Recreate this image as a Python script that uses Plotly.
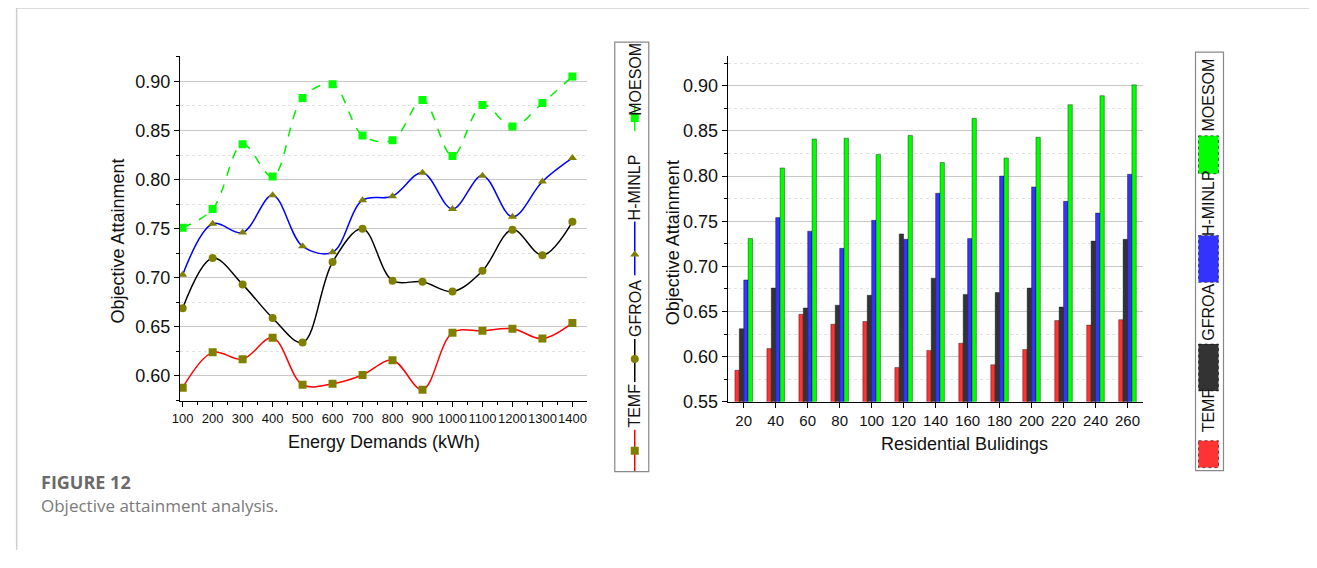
import plotly.graph_objects as go

# ---- left panel: objective attainment vs energy demand ----
demand = [100, 200, 300, 400, 500, 600, 700, 800, 900, 1000, 1100, 1200, 1300, 1400]
temf_line = [0.588, 0.624, 0.617, 0.639, 0.591, 0.592, 0.601, 0.616, 0.586, 0.644, 0.646, 0.648, 0.638, 0.654]
gfroa_line = [0.669, 0.720, 0.693, 0.659, 0.634, 0.716, 0.750, 0.697, 0.696, 0.686, 0.707, 0.749, 0.723, 0.757]
hminlp_line = [0.703, 0.755, 0.746, 0.784, 0.732, 0.726, 0.779, 0.783, 0.807, 0.770, 0.804, 0.762, 0.798, 0.822]
moesom_line = [0.751, 0.770, 0.836, 0.803, 0.883, 0.897, 0.845, 0.840, 0.881, 0.824, 0.876, 0.854, 0.878, 0.905]

# ---- right panel: objective attainment vs residential buildings ----
buildings = ["20", "40", "60", "80", "100", "120", "140", "160", "180", "200", "220", "240", "260"]
temf_bar = [0.585, 0.609, 0.647, 0.636, 0.639, 0.588, 0.607, 0.615, 0.591, 0.608, 0.640, 0.635, 0.641]
gfroa_bar = [0.631, 0.676, 0.654, 0.657, 0.668, 0.736, 0.687, 0.669, 0.671, 0.676, 0.655, 0.728, 0.730]
hminlp_bar = [0.685, 0.754, 0.739, 0.720, 0.751, 0.730, 0.781, 0.731, 0.800, 0.788, 0.772, 0.759, 0.802]
moesom_bar = [0.731, 0.809, 0.841, 0.842, 0.824, 0.845, 0.815, 0.864, 0.820, 0.843, 0.879, 0.889, 0.901]

OFF = 8
W, H = 1301, 552
FONT = "Liberation Sans, Arial, sans-serif"
OLIVE = "#808000"
RED, BLACK, BLUE, GREEN = "#ff0000", "#000000", "#0000ff", "#00ee00"
BAR_RED, BAR_BLACK, BAR_BLUE, BAR_GREEN = "#ff3333", "#333333", "#3333ff", "#00ff00"

# the photographed page comes out slightly shifted/scaled; undo that so
# positions below can be given in reference-picture pixels
SX, DX = 0.9943, 7.0
SY, DY = 0.9855, -0.2


def fx(x):
    w = (x - DX) / SX
    return min(max((w - OFF) / W, 0), 1)


def fy(y):
    w = (y - DY) / SY
    return min(max(1 - (w - OFF) / H, 0), 1)


def px_x(a, b):
    return [fx(a), fx(b)]


def px_y(top, bottom):
    return [fy(bottom), fy(top)]


fig = go.Figure()

line_series = [
    ("TEMF", temf_line, RED, "solid", "square", OLIVE),
    ("GFROA", gfroa_line, BLACK, "solid", "circle", OLIVE),
    ("H-MINLP", hminlp_line, BLUE, "solid", "triangle-up", OLIVE),
    ("MOESOM", moesom_line, GREEN, "dash", "square", "#00ff00"),
]
for name, vals, col, dash, sym, mcol in line_series:
    fig.add_trace(go.Scatter(
        x=demand, y=vals, name=name, mode="lines+markers",
        line=dict(color=col, width=1.5, dash=dash, shape="spline", smoothing=1.0),
        marker=dict(symbol=sym, size=8, color=mcol),
        xaxis="x", yaxis="y", showlegend=False))

bar_series = [
    ("TEMF", temf_bar, BAR_RED),
    ("GFROA", gfroa_bar, BAR_BLACK),
    ("H-MINLP", hminlp_bar, BAR_BLUE),
    ("MOESOM", moesom_bar, BAR_GREEN),
]
for name, vals, col in bar_series:
    fig.add_trace(go.Bar(
        x=buildings, y=vals, name=name, marker_color=col,
        marker_line=dict(color="rgba(0,0,0,0.55)", width=0.7),
        xaxis="x2", yaxis="y2", showlegend=False))

# ---- rotated legends (drawn on helper axes in reference pixel units) ----
leg_names = ["MOESOM", "H-MINLP", "GFROA", "TEMF"]
# left legend: lines with markers
l_text_y = [79, 188, 309, 407]
l_sym = [("#00ff00", "dash", "square", "#00ff00", 104, 134, 118),
         (BLUE, "solid", "triangle-up", OLIVE, 222, 276, 255),
         (BLACK, "solid", "circle", OLIVE, 340, 383, 360),
         (RED, "solid", "square", OLIVE, 431, 473, 452)]
for (lc, dash, sym, mc, y0, y1, ym) in l_sym:
    fig.add_trace(go.Scatter(x=[634, 634], y=[y0, y1], mode="lines",
                             line=dict(color=lc, width=1.5, dash=dash),
                             xaxis="x3", yaxis="y3", showlegend=False, hoverinfo="skip"))
    fig.add_trace(go.Scatter(x=[634], y=[ym], mode="markers",
                             marker=dict(symbol=sym, size=8, color=mc),
                             xaxis="x3", yaxis="y3", showlegend=False, hoverinfo="skip"))

# right legend: coloured boxes
r_text_y = [95, 204, 313, 412]
r_box = [(BAR_GREEN, 136, 174), (BAR_BLUE, 236, 283), (BAR_BLACK, 345, 392), (BAR_RED, 442, 469)]

shapes = []
annotations = []
for nm, ty in zip(leg_names, l_text_y):
    annotations.append(dict(x=634, y=ty, xref="x3", yref="y3", text=nm, textangle=-90,
                            xanchor="center", yanchor="middle",
                            showarrow=False, font=dict(family=FONT, size=16, color="#111")))
for nm, ty in zip(leg_names, r_text_y):
    annotations.append(dict(x=1208, y=ty, xref="x4", yref="y4", text=nm, textangle=-90,
                            xanchor="center", yanchor="middle",
                            showarrow=False, font=dict(family=FONT, size=16, color="#111")))
for col, y0, y1 in r_box:
    shapes.append(dict(type="rect", xref="x4", yref="y4", x0=1198, x1=1218, y0=y0, y1=y1,
                       fillcolor=col, line=dict(color="rgba(0,0,0,0.6)", width=1, dash="dot")))

# legend frames
shapes.append(dict(type="rect", xref="paper", yref="paper",
                   x0=fx(614), x1=fx(648), y0=fy(473), y1=fy(42),
                   line=dict(color="#888", width=1.2)))
shapes.append(dict(type="rect", xref="paper", yref="paper",
                   x0=fx(1195), x1=fx(1223), y0=fy(472), y1=fy(52),
                   line=dict(color="#888", width=1.2)))
# card border (top and left only)
shapes.append(dict(type="line", xref="paper", yref="paper", x0=0, x1=1, y0=fy(7), y1=fy(7),
                   line=dict(color="#d0d0d0", width=1.5)))
shapes.append(dict(type="line", xref="paper", yref="paper", x0=0.0005, x1=0.0005, y0=0, y1=fy(7),
                   line=dict(color="#d0d0d0", width=1.5)))

# axis titles placed where the reference has them
title_font = dict(family=FONT, size=18, color="#111")
annotations += [
    dict(x=fx(117), y=fy(241), text="Objective Attainment", textangle=-90, font=title_font),
    dict(x=fx(673), y=fy(243), text="Objective Attainment", textangle=-90, font=title_font),
    dict(x=fx(383), y=fy(443), text="Energy Demands (kWh)", font=title_font),
    dict(x=fx(964), y=fy(445), text="Residential Bulidings", font=title_font),
]
for a in annotations[-4:]:
    a.update(xref="paper", yref="paper", xanchor="center", yanchor="middle", showarrow=False)

# caption
annotations.append(dict(x=fx(38), y=fy(483), xref="paper", yref="paper", xanchor="left",
                        yanchor="middle", text="<b>FIGURE 12</b>", showarrow=False,
                        font=dict(family="Open Sans, sans-serif", size=18, color="#6a6a6a")))
annotations.append(dict(x=fx(38), y=fy(507), xref="paper", yref="paper", xanchor="left",
                        yanchor="middle", text="Objective attainment analysis.", showarrow=False,
                        font=dict(family="Open Sans, sans-serif", size=17, color="#7a7a7a")))

grid_major = "#c8c8c8"
minor_common = dict(ticklen=3, tickcolor="black", showgrid=False)

fig.update_layout(
    width=W, height=H, margin=dict(l=0, r=0, t=0, b=0),
    paper_bgcolor="white", plot_bgcolor="white",
    barmode="group", bargap=0.45, bargroupgap=0,
    font=dict(family=FONT, color="#111"),
    xaxis=dict(domain=px_x(179, 586), range=[91, 1448], tickvals=demand, tickangle=0,
               ticks="outside", ticklen=5, tickcolor="black", showline=True, linecolor="black",
               linewidth=1.3, showgrid=False, zeroline=False, tickfont=dict(size=13),
               minor=dict(dtick=50, tick0=0, ticks="outside", **minor_common)),
    yaxis=dict(domain=px_y(56, 402), range=[0.5746, 0.9257], tickvals=[0.60, 0.65, 0.70, 0.75, 0.80, 0.85, 0.90],
               tickformat=".2f", ticks="outside", ticklen=5, tickcolor="black", showline=True,
               linecolor="black", linewidth=1.3, showgrid=True, gridcolor=grid_major, gridwidth=1,
               zeroline=False, tickfont=dict(size=18),
               minor=dict(dtick=0.05, tick0=0.575, ticks="outside", ticklen=3, tickcolor="black",
                          showgrid=True, gridcolor="#e2e2e2", griddash="dot")),
    xaxis2=dict(domain=px_x(727, 1142), range=[-0.5, 12.47], type="category", tickangle=0,
                ticks="outside", ticklen=5, tickcolor="black", showline=True, linecolor="black",
                linewidth=1.3, showgrid=False, zeroline=False, anchor="y2", tickfont=dict(size=15)),
    yaxis2=dict(domain=px_y(56, 403), range=[0.55, 0.9328], anchor="x2",
                tickvals=[0.55, 0.60, 0.65, 0.70, 0.75, 0.80, 0.85, 0.90], tickformat=".2f",
                ticks="outside", ticklen=5, tickcolor="black", showline=True, linecolor="black",
                linewidth=1.3, showgrid=True, gridcolor=grid_major, gridwidth=1, zeroline=False,
                tickfont=dict(size=18),
                minor=dict(dtick=0.05, tick0=0.575, ticks="outside", ticklen=3, tickcolor="black",
                           showgrid=True, gridcolor="#e2e2e2", griddash="dot")),
    xaxis3=dict(domain=px_x(614, 648), range=[614, 648], visible=False, anchor="y3"),
    yaxis3=dict(domain=px_y(42, 473), range=[473, 42], visible=False, anchor="x3"),
    xaxis4=dict(domain=px_x(1195, 1223), range=[1195, 1223], visible=False, anchor="y4"),
    yaxis4=dict(domain=px_y(52, 472), range=[472, 52], visible=False, anchor="x4"),
    shapes=shapes, annotations=annotations,
)

fig.write_html("out.html", config={"displayModeBar": False})
